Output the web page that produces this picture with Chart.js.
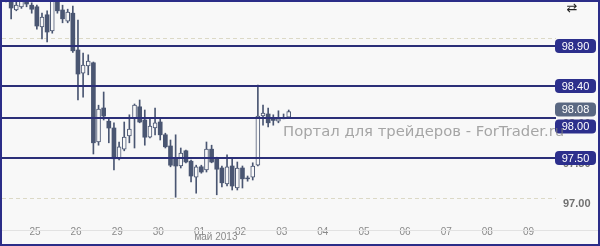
<!DOCTYPE html>
<html>
<head>
<meta charset="utf-8">
<script src="https://cdn.jsdelivr.net/npm/chart.js@4"></script>
<style>
html,body{margin:0;padding:0;background:#f8f8f8;}
canvas{display:block;}
</style>
</head>
<body>
<canvas id="c" width="600" height="246" style="width:600px;height:246px"></canvas>
<script>
// ---- data ----
const dayLabels = ['25','26','29','30','01','02','03','04','05','06','07','08','09'];
const monthLabel = 'май 2013';
const opens  = [99.70,99.55,99.35,99.39,99.52,99.41,99.39,99.14,99.29,99.09,99.50,99.35,99.21,99.31,98.85,98.56,98.65,98.69,97.70,98.125,97.96,97.875,97.49,97.61,97.775,98.00,98.14,97.975,97.76,97.875,97.95,97.79,97.65,97.50,97.40,97.59,97.46,97.26,97.39,97.35,97.61,97.50,97.375,97.175,97.40,97.125,97.375,97.25,97.26,97.41,98.025,98.05,97.99,97.96,97.99,98.01];
const highs  = [99.75,99.60,99.45,99.55,99.56,99.44,99.41,99.31,99.34,99.55,99.60,99.41,99.36,99.40,99.225,98.81,98.79,98.70,98.16,98.325,98.00,97.94,97.70,97.95,98.04,98.175,98.225,98.10,98.00,98.125,98.00,97.81,97.725,97.79,97.625,97.60,97.475,97.41,97.41,97.70,97.66,97.51,97.40,97.54,97.50,97.45,97.40,97.275,97.44,98.41,98.16,98.125,98.04,98.09,98.05,98.10];
const lows   = [99.45,99.24,99.34,99.37,99.39,99.31,99.11,98.99,98.95,99.06,99.31,99.19,99.19,98.82,98.225,98.26,98.54,97.55,97.66,97.975,97.69,97.35,97.475,97.59,97.69,97.625,97.94,97.66,97.75,97.79,97.725,97.625,97.39,97.01,97.375,97.44,97.20,97.06,97.31,97.325,97.44,97.04,97.14,97.15,97.10,97.10,97.125,97.21,97.225,97.40,97.91,97.89,97.91,97.94,97.99,98.01];
const closes = [99.58,99.375,99.41,99.50,99.425,99.36,99.15,99.26,99.075,99.50,99.34,99.24,99.325,98.84,98.55,98.66,98.71,97.69,98.11,98.025,97.875,97.49,97.64,97.76,97.86,98.16,97.95,97.76,97.90,97.94,97.79,97.64,97.41,97.40,97.56,97.45,97.275,97.39,97.325,97.61,97.45,97.36,97.19,97.39,97.15,97.375,97.24,97.24,97.40,98.025,98.06,97.94,97.97,97.99,98.00,98.08];
const levels = [98.90, 98.40, 98.00, 97.50];
const yTicks = [97.00, 97.50, 98.00, 98.50, 99.00];
const watermark = 'Портал для трейдеров - ForTrader.ru';
const cornerIcon = '⇄';

// ---- scale setup (candle units on x, 8 candles per day) ----
const CANDLES_PER_DAY = 8;
const FIRST_DAY_POS = 5.64;
const X_MIN = -0.78, X_MAX = 107.0;
const Y_MIN = 96.825, Y_MAX = 99.45;

const BG = '#f8f8f8';
const CANDLE = '#4a5672';
const LEVEL = '#2b2f78';
const BADGE = '#2c2f8c';
const CUR_BADGE = '#5a6882';
const BORDER = '#2b2d88';

const wickData = lows.map((l, i) => ({x: i, y: [l, highs[i]]}));
const bodyData = opens.map((o, i) => ({x: i, y: [o, closes[i]]}));
const isUp = i => closes[i] >= opens[i];

const decor = {
  id: 'decor',
  beforeDraw(chart) {
    const ctx = chart.ctx;
    ctx.save();
    ctx.fillStyle = BG;
    ctx.fillRect(0, 0, chart.width, chart.height);
    ctx.restore();
  },
  afterDatasetsDraw(chart) {
    const ctx = chart.ctx, a = chart.chartArea, ys = chart.scales.y;
    ctx.save();
    ctx.strokeStyle = LEVEL;
    ctx.lineWidth = 2;
    levels.forEach(v => {
      const y = Math.round(ys.getPixelForValue(v));
      ctx.beginPath();
      ctx.moveTo(a.left, y);
      ctx.lineTo(a.right, y);
      ctx.stroke();
    });
    ctx.restore();
  },
  afterDraw(chart) {
    const ctx = chart.ctx, a = chart.chartArea, ys = chart.scales.y, xs = chart.scales.x;
    ctx.save();
    // faint line under x labels
    ctx.strokeStyle = '#e2e2e2';
    ctx.lineWidth = 1;
    ctx.beginPath();
    ctx.moveTo(2, 230.5);
    ctx.lineTo(chart.width - 2, 230.5);
    ctx.stroke();

    // month label
    ctx.fillStyle = '#8a8a8a';
    ctx.font = '10px "Liberation Sans", Arial, sans-serif';
    ctx.textAlign = 'center';
    ctx.textBaseline = 'middle';
    const mIdx = dayLabels.indexOf('01');
    ctx.fillText(monthLabel, xs.getPixelForValue(FIRST_DAY_POS + CANDLES_PER_DAY * (mIdx + 0.4)), 237);

    // badges
    const h = 14, w = 41, bx = a.right - 1;
    const cur = closes[closes.length - 1];
    const curY = ys.getPixelForValue(cur) - 2;
    const items = levels.map(v => {
      let y = ys.getPixelForValue(v);
      if (Math.abs(y - curY) < h + 2) y = y > curY ? curY + h + 3 : curY - h - 3;
      return {v, y, color: BADGE};
    });
    items.push({v: cur, y: curY, color: CUR_BADGE});
    ctx.font = '11px "Liberation Sans", Arial, sans-serif';
    items.forEach(it => {
      ctx.fillStyle = it.color;
      ctx.beginPath();
      ctx.roundRect(bx, it.y - h / 2, w, h, 4);
      ctx.fill();
      ctx.fillStyle = '#ffffff';
      ctx.fillText(it.v.toFixed(2), bx + w / 2, it.y + 0.5);
    });

    // watermark
    ctx.fillStyle = 'rgba(130,130,130,0.7)';
    ctx.font = '14.8px "DejaVu Sans", sans-serif';
    ctx.textAlign = 'left';
    ctx.textBaseline = 'alphabetic';
    ctx.fillText(watermark, 283, 136);

    // corner icon
    ctx.fillStyle = '#222';
    ctx.font = '13px "DejaVu Sans", sans-serif';
    ctx.textAlign = 'center';
    ctx.textBaseline = 'middle';
    ctx.fillText(cornerIcon, 572, 9);

    // outer border
    ctx.strokeStyle = BORDER;
    ctx.lineWidth = 2;
    ctx.strokeRect(1, 1, chart.width - 2, chart.height - 2);
    ctx.restore();
  }
};

new Chart(document.getElementById('c'), {
  type: 'bar',
  data: {
    datasets: [
      {
        label: 'wick',
        data: wickData,
        order: 2,
        grouped: false,
        barThickness: 1,
        backgroundColor: CANDLE,
        borderWidth: 0
      },
      {
        label: 'body',
        data: bodyData,
        order: 1,
        grouped: false,
        barThickness: 4,
        backgroundColor: c => isUp(c.dataIndex) ? BG : CANDLE,
        borderColor: CANDLE,
        borderWidth: c => isUp(c.dataIndex) ? 1 : 0,
        borderSkipped: false
      }
    ]
  },
  options: {
    responsive: false,
    devicePixelRatio: 1,
    animation: false,
    layout: {padding: {left: 2, right: 2, top: 2, bottom: 2}},
    plugins: {legend: {display: false}, tooltip: {enabled: false}},
    scales: {
      x: {
        type: 'linear',
        offset: false,
        min: X_MIN,
        max: X_MAX,
        grid: {display: false, offset: false},
        border: {display: false},
        afterBuildTicks: s => { s.ticks = dayLabels.map((_, k) => ({value: FIRST_DAY_POS + CANDLES_PER_DAY * k})); },
        afterFit: s => { s.height = 32; s.paddingLeft = 0; s.paddingRight = 0; },
        ticks: {
          autoSkip: false,
          maxRotation: 0,
          padding: 6,
          color: '#8a8a8a',
          font: {family: '"Liberation Sans", Arial, sans-serif', size: 10},
          callback: (v, i) => dayLabels[i]
        }
      },
      y: {
        position: 'right',
        min: Y_MIN,
        max: Y_MAX,
        afterBuildTicks: s => { s.ticks = yTicks.map(v => ({value: v})); },
        afterFit: s => { s.width = 42; s.paddingTop = 0; s.paddingBottom = 0; },
        grid: {
          drawTicks: false,
          color: c => (c.tick && Math.abs(c.tick.value - Math.round(c.tick.value)) < 1e-6) ? '#dcd9c6' : 'rgba(0,0,0,0)',
          lineWidth: 1
        },
        border: {display: false, dash: [4, 3]},
        ticks: {
          padding: 7,
          labelOffset: 6,
          color: '#707070',
          font: {family: '"Liberation Sans", Arial, sans-serif', size: 11, weight: 'bold'},
          callback: v => Number(v).toFixed(2)
        }
      }
    }
  },
  plugins: [decor]
});
</script>
</body>
</html>
